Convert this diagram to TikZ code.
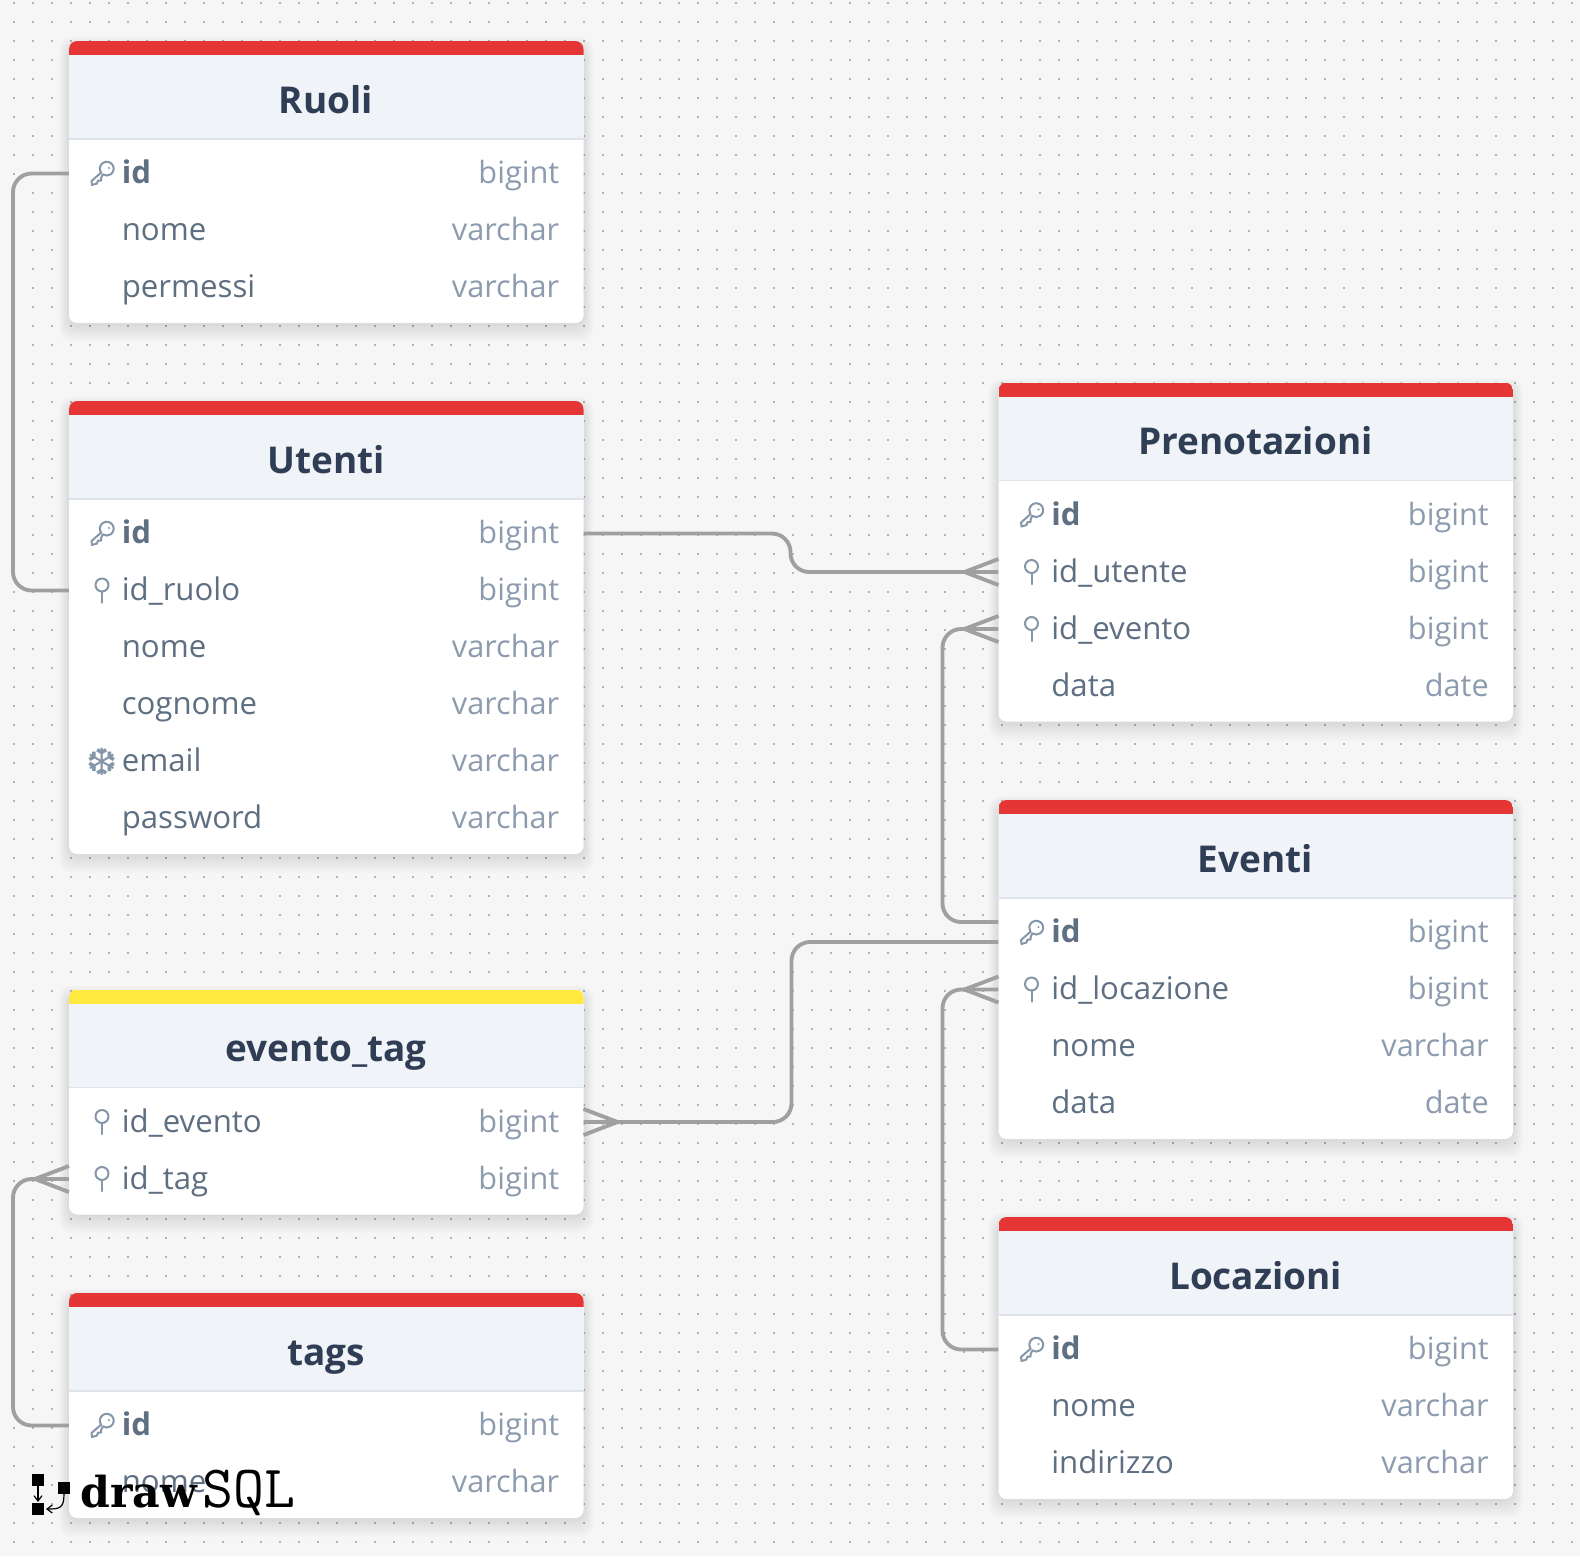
\documentclass[tikz,border=0pt]{standalone}
\usepackage{fontspec}
\setmainfont{Open Sans}
\newfontfamily\djv{DejaVu Sans}
\newfontfamily\slab{DejaVu Serif}
\usetikzlibrary{calc,arrows.meta}
\definecolor{pagebg}{HTML}{F6F6F6}
\definecolor{dotc}{HTML}{B4B4B4}
\definecolor{headbg}{HTML}{F0F3F8}
\definecolor{headln}{HTML}{DDE4EC}
\definecolor{titlec}{HTML}{2F3E54}
\definecolor{namec}{HTML}{5F6F82}
\definecolor{typec}{HTML}{8C9BAE}
\definecolor{iconc}{HTML}{8496A8}
\definecolor{connc}{HTML}{A0A0A0}
\definecolor{redc}{HTML}{E53535}
\definecolor{yelc}{HTML}{FFE93F}
\tikzset{
 x=0.75pt,y=-0.75pt,
 conn/.style={draw=connc,line width=2.9pt,rounded corners=14pt},
 crowline/.style={draw=connc,line width=2.9pt},
 rowbox/.style={inner sep=0pt,minimum width=385.5pt,minimum height=42.75pt},
 nametxt/.style={anchor=base west,inner sep=0pt,text=namec,font=\fontsize{23.4}{28}\selectfont},
 pktxt/.style={nametxt,font=\fontsize{23.4}{28}\selectfont\bfseries},
 typetxt/.style={anchor=base east,inner sep=0pt,text=typec,font=\fontsize{23}{28}\selectfont},
 titletxt/.style={anchor=base,inner sep=0pt,text=titlec,font=\fontsize{27.7}{34}\selectfont\bfseries},
 icon/.style={draw=iconc,line width=1.5pt,line cap=round,line join=round},
}
\newcommand\tbl[7]{% id,x,top,colour,title,title baseline offset,nrows
 \gdef\tx{#2}\gdef\ty{#3}\gdef\tid{#1}
 \pgfmathsetmacro\bot{#3+98+13+57*#7}
 \pgfmathsetmacro\rt{#2+514.5}
 \foreach \s in {0,2,...,18}{
  \fill[black,opacity=.011,rounded corners=9pt] ({#2-\s*.55},{#3+6-\s*.55}) rectangle ({\rt+\s*.55},{\bot+1+\s});
 }
 \fill[white,rounded corners=6pt] (#2,#3) rectangle (\rt,\bot);
 \begin{scope}
  \clip[rounded corners=6pt] (#2,#3) rectangle (\rt,\bot);
  \fill[#4] (#2,#3) rectangle (\rt,{#3+14});
  \fill[headbg] (#2,{#3+14}) rectangle (\rt,{#3+97});
  \fill[headln] (#2,{#3+97}) rectangle (\rt,{#3+98.5});
 \end{scope}
 \node[titletxt] (#1-title) at ({#2+257},{#3+#6}) {#5};
}
\newcommand\rowat[5]{% n,icon,style,name,type
 \pgfmathsetmacro\ry{\ty+104+(#1-.5)*57}
 \pgfmathsetmacro\rcx{\tx+257.25}
 \pgfmathsetmacro\nx{\tx+52.5}
 \pgfmathsetmacro\ix{\tx+33}
 \pgfmathsetmacro\tpx{\tx+490.5}
 \pgfmathsetmacro\by{\ry+10}
 \node[rowbox] (\tid-#1) at (\rcx,\ry) {};
 \node[#3] (\tid-#1-name) at (\nx,\by) {#4};
 \node[typetxt] (\tid-#1-type) at (\tpx,\by) {#5};
 \ifx#2k\keyicon{\ix}{\ry}\fi
 \ifx#2f\fkicon{\ix}{\ry}\fi
 \ifx#2u\uqicon{\ix}{\ry}\fi
}
\newcommand\keyicon[2]{%
 \begin{scope}[shift={(#1,#2)}]
  \draw[icon] (-0.9,-0.9) arc[start angle=215,end angle=-125,x radius=6.9,y radius=-6.9] -- (-1,5) -- (-1,7) -- (-4,7) -- (-5,10) -- (-10,11.5) -- (-10.5,7.5) -- cycle;
  \fill[iconc] (7,-5.5) circle[radius=1.2];
 \end{scope}}
\newcommand\fkicon[2]{%
 \begin{scope}[shift={(#1,#2)}]
  \draw[icon] (0,-5.5) circle[radius=6.5];
  \draw[icon] (0,1) -- (0,12);
 \end{scope}}
\newcommand\uqicon[2]{%
 \node[inner sep=0pt,text=iconc,font=\djv\fontsize{28}{30}\selectfont] (email-icon) at (#1,#2) {❆};}
\newcommand\crowin[2]{% anchor node, direction (+1 = right side)
 \draw[crowline] ($(#1)+({#2*34},0)$) -- ($(#1)+(0,-13)$);
 \draw[crowline] ($(#1)+({#2*34},0)$) -- ($(#1)+(0,13)$);
 \draw[crowline] ($(#1)+({#2*34},0)$) -- (#1);
}
\begin{document}
\begin{tikzpicture}
\useasboundingbox (0,0) rectangle (1580,1556);
\fill[pagebg] (0,0) rectangle (1580,1556);
\fill[dotc] foreach \i in {0,...,82}{ foreach \j in {0,...,81}{ ({14+19*\i-.8},{3+19*\j-.8}) rectangle ++(1.7,1.7) } };

% tables
\tbl{ruoli}{69}{41}{redc}{Ruoli}{72}{3}
\rowat{1}{k}{pktxt}{id}{bigint}
\rowat{2}{n}{nametxt}{nome}{varchar}
\rowat{3}{n}{nametxt}{permessi}{varchar}

\tbl{utenti}{69}{401}{redc}{Utenti}{72}{6}
\rowat{1}{k}{pktxt}{id}{bigint}
\rowat{2}{f}{nametxt}{id\_ruolo}{bigint}
\rowat{3}{n}{nametxt}{nome}{varchar}
\rowat{4}{n}{nametxt}{cognome}{varchar}
\rowat{5}{u}{nametxt}{email}{varchar}
\rowat{6}{n}{nametxt}{password}{varchar}

\tbl{evtag}{69}{989.5}{yelc}{evento\_tag}{72}{2}
\rowat{1}{f}{nametxt}{id\_evento}{bigint}
\rowat{2}{f}{nametxt}{id\_tag}{bigint}

\tbl{tags}{69}{1293}{redc}{tags}{72}{2}
\rowat{1}{k}{pktxt}{id}{bigint}
\rowat{2}{n}{nametxt}{nome}{varchar}

\tbl{pren}{998.5}{382.5}{redc}{Prenotazioni}{72}{4}
\rowat{1}{k}{pktxt}{id}{bigint}
\rowat{2}{f}{nametxt}{id\_utente}{bigint}
\rowat{3}{f}{nametxt}{id\_evento}{bigint}
\rowat{4}{n}{nametxt}{data}{date}

\tbl{eventi}{998.5}{800}{redc}{Eventi}{72}{4}
\rowat{1}{k}{pktxt}{id}{bigint}
\rowat{2}{f}{nametxt}{id\_locazione}{bigint}
\rowat{3}{n}{nametxt}{nome}{varchar}
\rowat{4}{n}{nametxt}{data}{date}

\tbl{loca}{998.5}{1217}{redc}{Locazioni}{72}{3}
\rowat{1}{k}{pktxt}{id}{bigint}
\rowat{2}{n}{nametxt}{nome}{varchar}
\rowat{3}{n}{nametxt}{indirizzo}{varchar}

% connectors
\draw[conn] (ruoli-1.west) -- ++(-56,0) |- (utenti-2.west);
\draw[conn] (utenti-1.east) -- ++(207,0) |- (pren-2.west);
\crowin{pren-2.west}{-1}
\draw[conn] (eventi-1.west |- 0,922) -- ++(-56,0) |- (pren-3.west);
\crowin{pren-3.west}{-1}
\draw[conn] (eventi-1.west |- 0,942) -- ++(-207,0) |- (evtag-1.east);
\crowin{evtag-1.east}{1}
\draw[conn] (loca-1.west) -- ++(-56,0) |- (eventi-2.west);
\crowin{eventi-2.west}{-1}
\draw[conn] (tags-1.west) -- ++(-56,0) |- (evtag-2.west);
\crowin{evtag-2.west}{-1}

% logo
\fill[black] (32,1474) rectangle (44,1486);
\fill[black] (32,1503) rectangle (44,1514.5);
\fill[black] (58,1482) rectangle (70,1494);
\draw[black,line width=.9pt,-{Straight Barb[length=4pt,width=6pt]}] (38,1486) -- (38,1502);
\draw[black,line width=.9pt,-{Straight Barb[length=4pt,width=6pt]}] (64,1494) .. controls (64,1508) and (60,1509) .. (46,1509);
\node[anchor=base west,inner sep=0pt,text=black,font=\slab\bfseries\fontsize{32}{40}\selectfont] (logo-draw) at (80,1507) {draw};
\node[anchor=base west,inner sep=0pt,text=black,font=\ttfamily\fontsize{45}{48}\selectfont] (logo-sql) at (202,1507) {SQL};
\end{tikzpicture}
\end{document}
